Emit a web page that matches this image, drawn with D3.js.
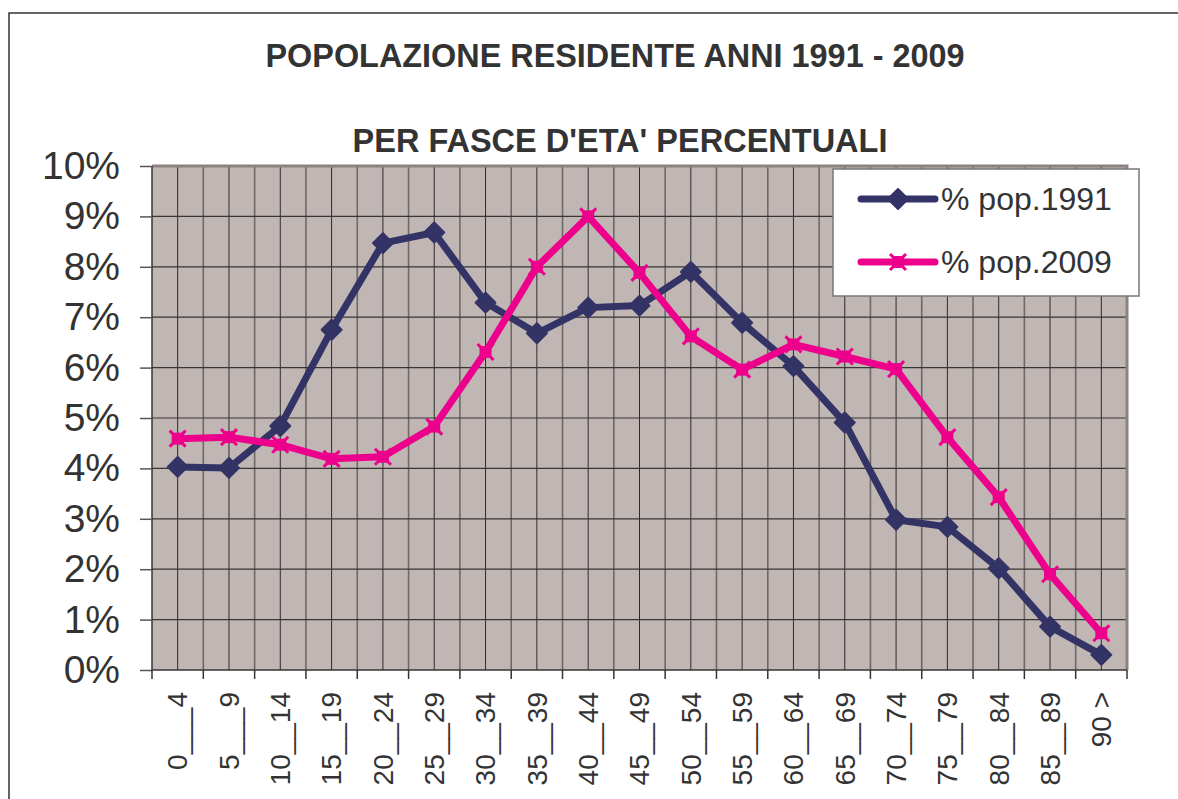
<!DOCTYPE html>
<html>
<head>
<meta charset="utf-8">
<script src="https://cdn.jsdelivr.net/npm/d3@7"></script>
<style>
  body { margin: 0; background: #fff; }
  svg text { font-family: "Liberation Sans", Arial, sans-serif; fill: #333; }
</style>
</head>
<body>
<svg id="chart" width="1178" height="799"></svg>
<script>
// age bands and percentages
var ageBands = ["0___4", "5___9", "10__14", "15__19", "20__24", "25__29", "30__34",
                "35__39", "40__44", "45__49", "50__54", "55__59", "60__64", "65__69",
                "70__74", "75__79", "80__84", "85__89", "90 >"];
var pop1991 = [4.03, 4.01, 4.84, 6.75, 8.47, 8.68, 7.29, 6.68, 7.19, 7.23, 7.90,
               6.89, 6.03, 4.91, 2.98, 2.84, 2.02, 0.86, 0.30];
var pop2009 = [4.59, 4.62, 4.47, 4.19, 4.23, 4.83, 6.31, 8.00, 9.00, 7.88, 6.62,
               5.96, 6.46, 6.22, 5.97, 4.62, 3.43, 1.90, 0.73];
var seriesNames = ["% pop.1991", "% pop.2009"];
var yTicks = [0, 1, 2, 3, 4, 5, 6, 7, 8, 9, 10];

var svg = d3.select("#chart");
var navy = "#333366", pink = "#ec008c";
var plotL = 152, plotR = 1127, plotT = 166, plotB = 670;

// outer frame
svg.append("rect")
  .attr("x", 9).attr("y", 13)
  .attr("width", 1200).attr("height", 900)
  .attr("fill", "none").attr("stroke", "#333").attr("stroke-width", 1.5);

svg.append("text").attr("x", 615).attr("y", 67)
  .attr("text-anchor", "middle").attr("font-size", 32.4).attr("font-weight", "bold")
  .text("POPOLAZIONE RESIDENTE ANNI 1991 - 2009");
svg.append("text").attr("x", 620).attr("y", 152)
  .attr("text-anchor", "middle").attr("font-size", 32.5).attr("font-weight", "bold")
  .text("PER FASCE D'ETA' PERCENTUALI");

var x = d3.scaleBand().domain(ageBands).range([plotL, plotR]);
var y = d3.scaleLinear().domain([0, 10]).range([plotB, plotT]);

svg.append("rect")
  .attr("x", plotL).attr("y", plotT)
  .attr("width", plotR - plotL).attr("height", plotB - plotT)
  .attr("fill", "#c0b7b5");

// vertical grid: band edges and band centres
var edges = ageBands.map(function(d){ return x(d); });
svg.selectAll(".vedge").data(edges.slice(1)).enter().append("line")
  .attr("x1", function(d){ return d; }).attr("x2", function(d){ return d; })
  .attr("y1", plotT).attr("y2", plotB)
  .attr("stroke", "#6e6866").attr("stroke-width", 1.6);
svg.selectAll(".vmid").data(ageBands).enter().append("line")
  .attr("x1", function(d){ return x(d) + x.bandwidth() / 2; })
  .attr("x2", function(d){ return x(d) + x.bandwidth() / 2; })
  .attr("y1", plotT).attr("y2", plotB)
  .attr("stroke", "#2f2b2b").attr("stroke-width", 1);

// horizontal grid
svg.selectAll(".hgrid").data(yTicks.slice(1, -1)).enter().append("line")
  .attr("x1", plotL).attr("x2", plotR)
  .attr("y1", function(d){ return y(d); }).attr("y2", function(d){ return y(d); })
  .attr("stroke", "#3a3535").attr("stroke-width", 1.2);

// plot border (top/right light, left/bottom dark)
svg.append("path")
  .attr("d", "M" + plotL + "," + plotT + "H" + plotR + "V" + plotB)
  .attr("fill", "none").attr("stroke", "#8c8280").attr("stroke-width", 3);
svg.append("path")
  .attr("d", "M" + plotL + "," + plotT + "V" + plotB + "H" + plotR)
  .attr("fill", "none").attr("stroke", "#3a3535").attr("stroke-width", 1.5);

// y axis
var yAxis = svg.append("g").attr("transform", "translate(" + plotL + ",0)")
  .call(d3.axisLeft(y).tickValues(yTicks).tickSize(12).tickPadding(20)
        .tickFormat(function(d){ return d + "%"; }));
yAxis.select(".domain").remove();
yAxis.selectAll("line").attr("stroke", "#555").attr("stroke-width", 1.5);
yAxis.selectAll("text").attr("font-size", 39).attr("fill", "#333")
  .attr("font-family", "Liberation Sans, Arial, sans-serif");

// x axis ticks at band edges
var xTickPos = edges.concat([plotR]);
svg.selectAll(".xtick").data(xTickPos).enter().append("line")
  .attr("x1", function(d){ return d; }).attr("x2", function(d){ return d; })
  .attr("y1", plotB).attr("y2", plotB + 9)
  .attr("stroke", "#333").attr("stroke-width", 1.5);

svg.selectAll(".xlab").data(ageBands).enter().append("text")
  .attr("transform", function(d){
    return "translate(" + (x(d) + x.bandwidth() / 2) + "," + (plotB + 22) + ") rotate(-90)";
  })
  .attr("text-anchor", "end").attr("dy", "0.35em")
  .attr("font-size", 28)
  .text(function(d){ return d; });

// series
var line = d3.line()
  .x(function(d, i){ return x(ageBands[i]) + x.bandwidth() / 2; })
  .y(function(d){ return y(d); });

function diamond(g, cx, cy, r, col) {
  g.append("path")
    .attr("d", "M" + cx + "," + (cy - r) + "L" + (cx + r) + "," + cy +
               "L" + cx + "," + (cy + r) + "L" + (cx - r) + "," + cy + "Z")
    .attr("fill", col).attr("stroke", col).attr("stroke-width", 2).attr("stroke-linejoin", "round");
}
function starSquare(g, cx, cy, r, col) {
  g.append("rect").attr("x", cx - r).attr("y", cy - r)
    .attr("width", 2 * r).attr("height", 2 * r).attr("fill", col);
  g.append("path")
    .attr("d", "M" + (cx - r - 2) + "," + (cy - r - 2) + "L" + (cx + r + 2) + "," + (cy + r + 2) +
               "M" + (cx + r + 2) + "," + (cy - r - 2) + "L" + (cx - r - 2) + "," + (cy + r + 2))
    .attr("stroke", col).attr("stroke-width", 3);
}

var g1 = svg.append("g");
g1.append("path").datum(pop1991).attr("d", line)
  .attr("fill", "none").attr("stroke", navy).attr("stroke-width", 7).attr("stroke-linejoin", "round");
pop1991.forEach(function(v, i){
  diamond(g1, x(ageBands[i]) + x.bandwidth() / 2, y(v), 10, navy);
});

var g2 = svg.append("g");
g2.append("path").datum(pop2009).attr("d", line)
  .attr("fill", "none").attr("stroke", pink).attr("stroke-width", 7).attr("stroke-linejoin", "round");
pop2009.forEach(function(v, i){
  starSquare(g2, x(ageBands[i]) + x.bandwidth() / 2, y(v), 6, pink);
});

// legend
var lg = svg.append("g");
lg.append("rect").attr("x", 833).attr("y", 169).attr("width", 306).attr("height", 127)
  .attr("fill", "#fff").attr("stroke", "#777").attr("stroke-width", 1.5);
var legendRows = [
  { name: seriesNames[0], col: navy, ly: 199 },
  { name: seriesNames[1], col: pink, ly: 262 }
];
legendRows.forEach(function(r, i){
  lg.append("line").attr("x1", 861).attr("x2", 935).attr("y1", r.ly).attr("y2", r.ly)
    .attr("stroke", r.col).attr("stroke-width", 7).attr("stroke-linecap", "round");
  if (i == 0) diamond(lg, 898, r.ly, 10, r.col);
  else starSquare(lg, 898, r.ly, 6, r.col);
  lg.append("text").attr("x", 941).attr("y", r.ly + 11)
    .attr("font-size", 32).text(r.name);
});
</script>
</body>
</html>
